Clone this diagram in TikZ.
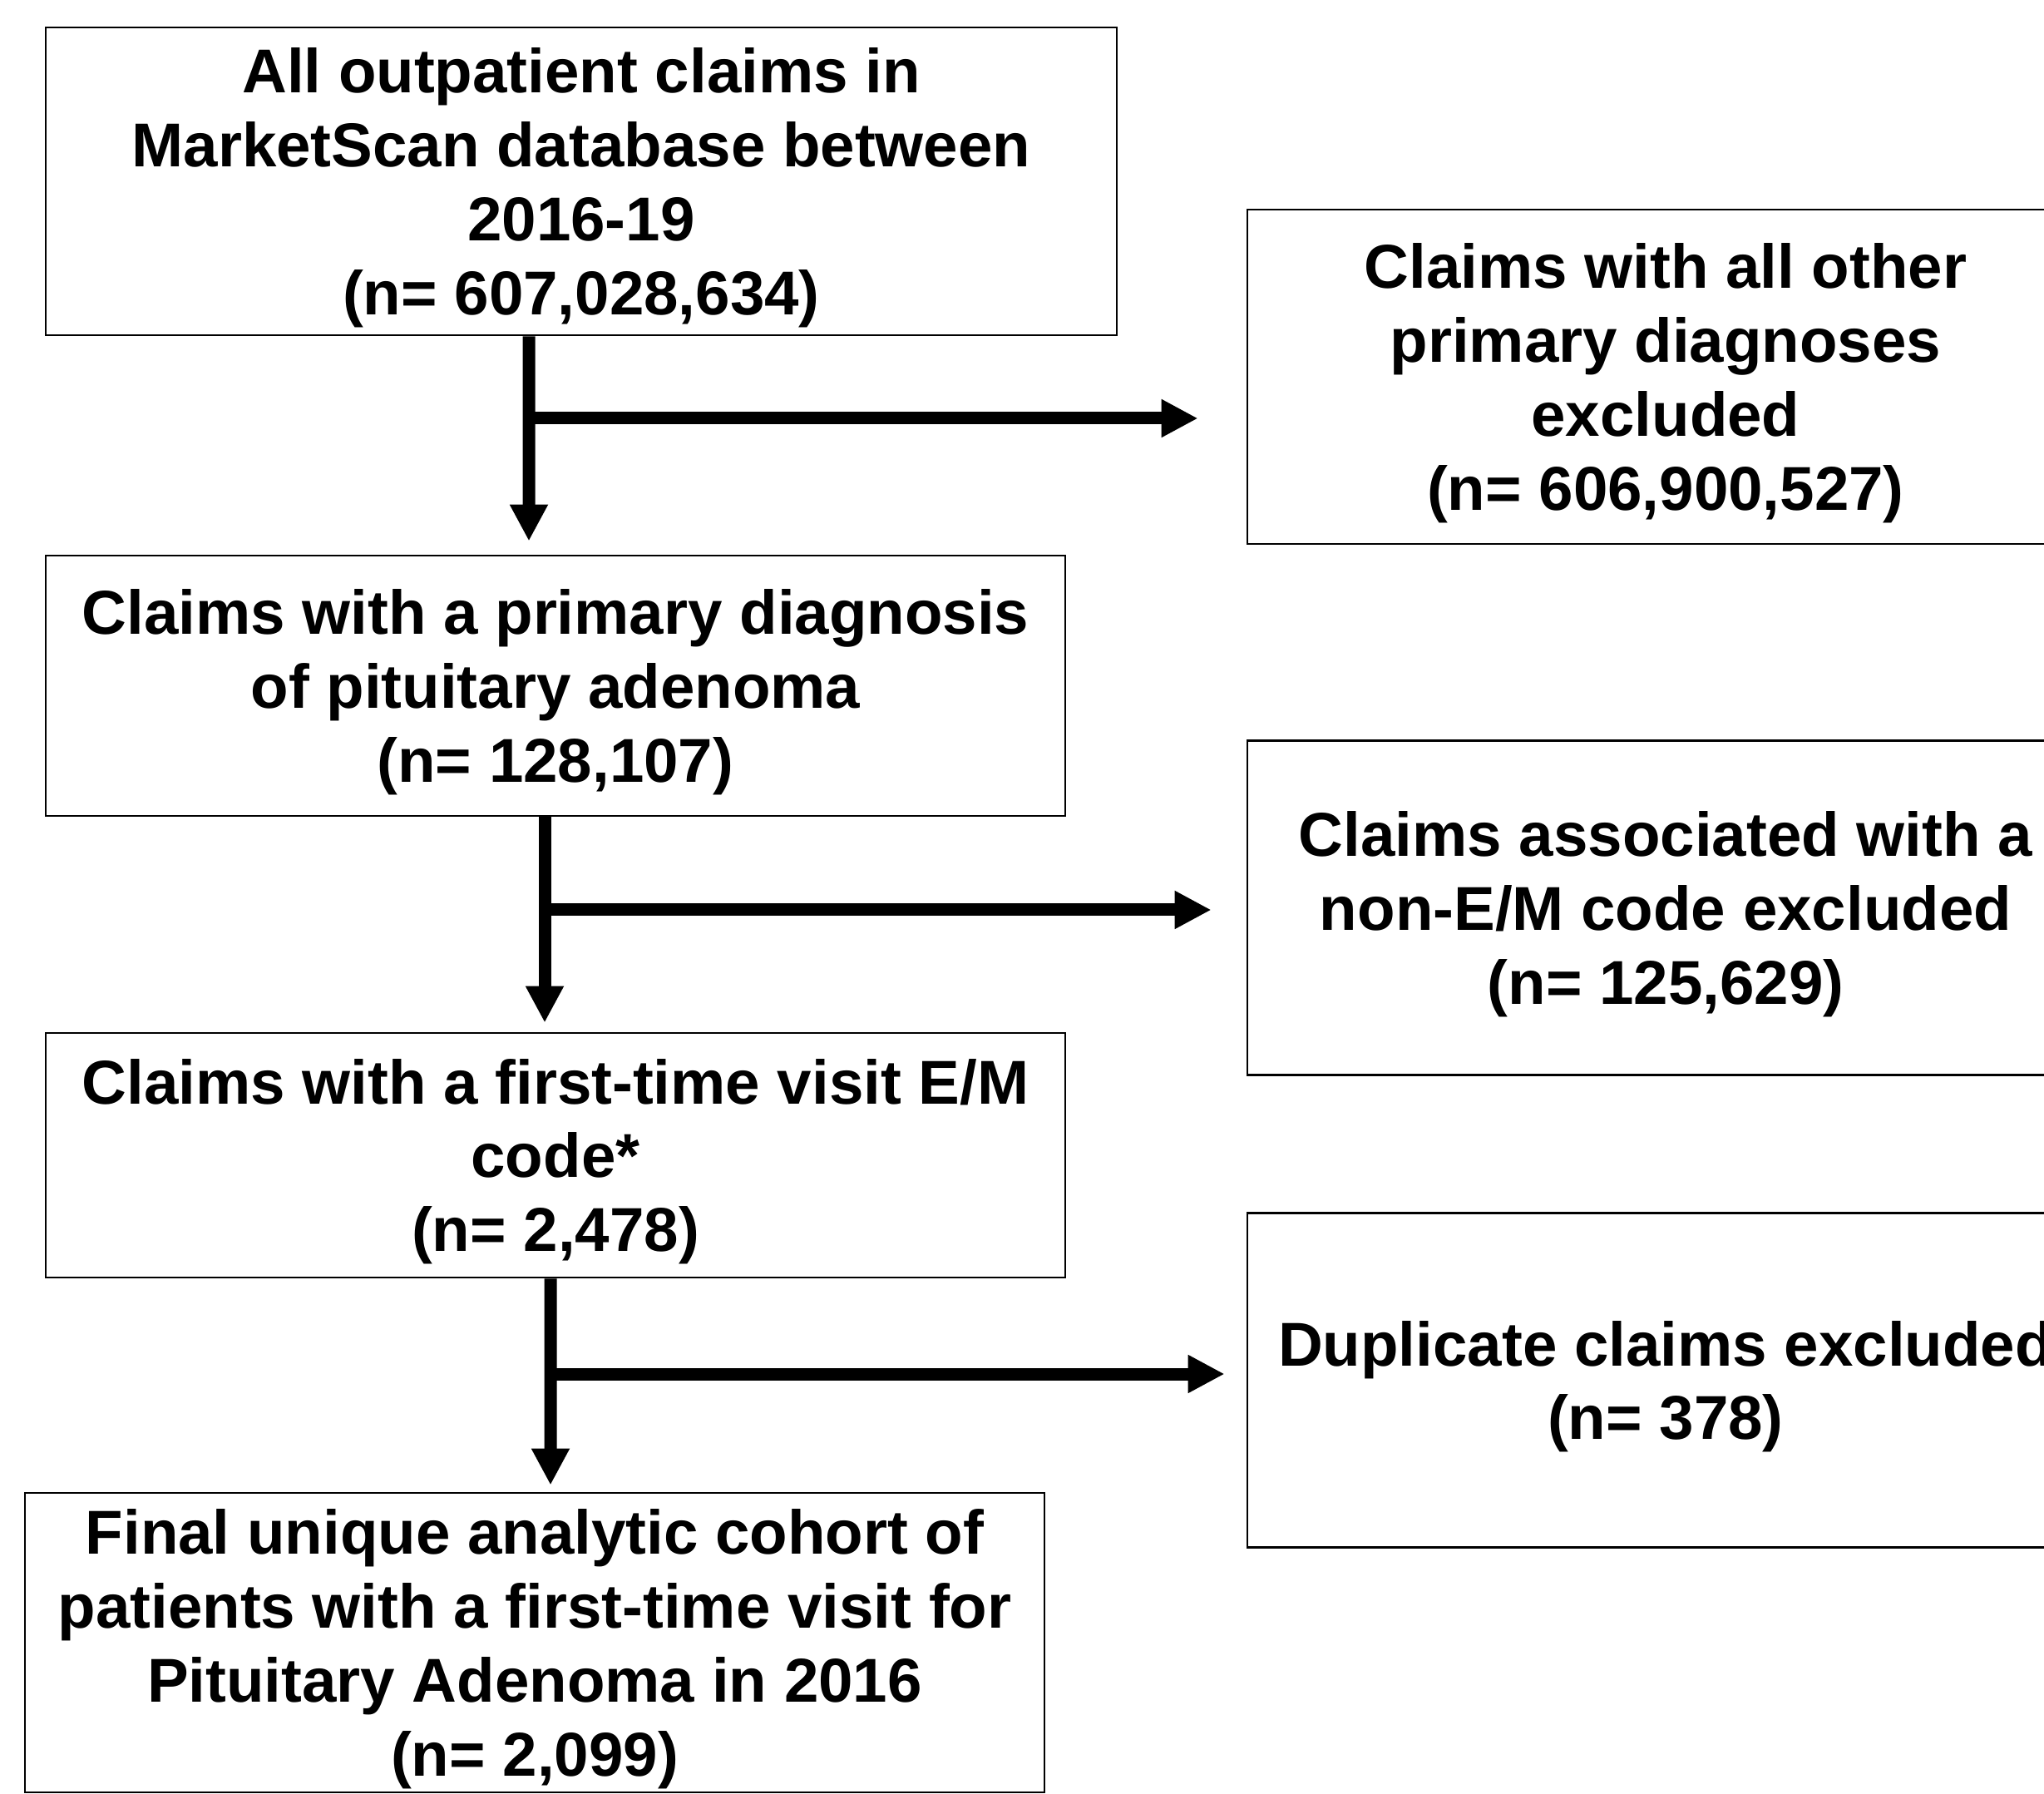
\documentclass[tikz,border=0pt]{standalone}
\usepackage{fontspec}
\setmainfont{Liberation Sans}
\usetikzlibrary{arrows.meta,positioning,calc}

\begin{document}
\begin{tikzpicture}[
    >={Triangle[length=4.4mm,width=4.3mm]},
    box/.style={draw, line width=0.8pt, align=center, inner sep=0pt, text depth=-0.6mm,
        font=\fontsize{21.2}{25.3}\selectfont\bfseries},
    leftbox/.style={box, minimum width=122.6mm},
    rightbox/.style={box, minimum width=100.6mm, minimum height=40.2mm},
    flow/.style={->, line width=1.5mm},
]
\useasboundingbox (0,0) rectangle (24.58,-21.57);

% main column
\node[box, minimum width=128.8mm, minimum height=37mm] (all) at (6.99,-2.18)
    {All outpatient claims in\\MarketScan database between\\2016-19\\(n= 607,028,634)};
\node[leftbox, minimum height=31.3mm] (pit) at (6.68,-8.245)
    {Claims with a primary diagnosis\\of pituitary adenoma\\(n= 128,107)};
\node[leftbox, minimum height=29.4mm] (em) at (6.68,-13.89)
    {Claims with a first-time visit E/M\\code*\\(n= 2,478)};
\node[leftbox, minimum height=36mm] (final) at (6.43,-19.75)
    {Final unique analytic cohort of\\patients with a first-time visit for\\Pituitary Adenoma in 2016\\(n= 2,099)};

% exclusions
\node[rightbox] (other) at (20.03,-4.53)
    {Claims with all other\\primary diagnoses\\excluded\\(n= 606,900,527)};
\node[rightbox] (nonem) at (20.03,-10.915)
    {Claims associated with a\\non-E/M code excluded\\(n= 125,629)};
\node[rightbox] (dup) at (20.03,-16.595)
    {Duplicate claims excluded\\(n= 378)};

% arrows down
\draw[flow, shorten >=1.6mm] ([xshift=-6.3mm]all.south) -- ([xshift=-3.2mm]pit.north);
\draw[flow, shorten >=1.1mm] ([xshift=-1.3mm]pit.south) -- ([xshift=-1.3mm]em.north);
\draw[flow, shorten >=0.8mm] ([xshift=-0.6mm]em.south) -- ([xshift=1.9mm]final.north);

% arrows out
\coordinate (j1) at (6.36,-5.03);
\coordinate (j2) at (6.55,-10.94);
\coordinate (j3) at (6.62,-16.52);
\draw[flow, shorten >=5.8mm] (j1) -- (j1 -| other.west);
\draw[flow, shorten >=4.2mm] (j2) -- (j2 -| nonem.west);
\draw[flow, shorten >=2.6mm] (j3) -- (j3 -| dup.west);

\end{tikzpicture}
\end{document}
